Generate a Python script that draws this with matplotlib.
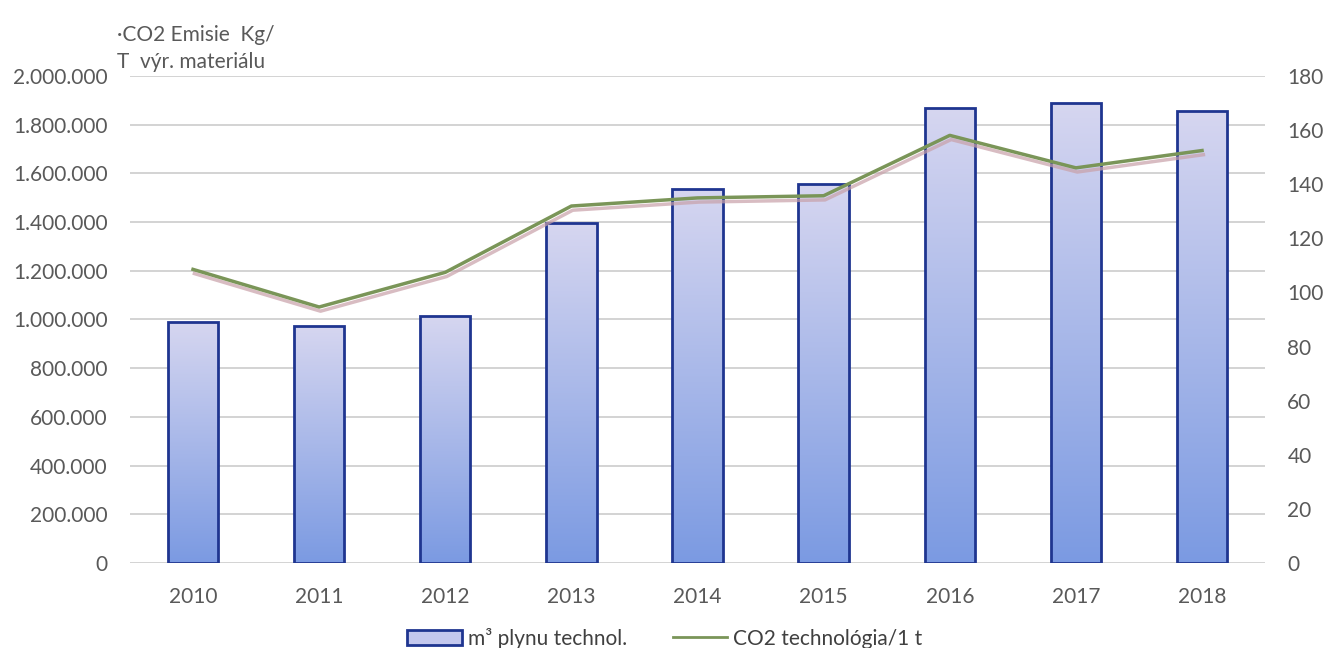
import numpy as np
import matplotlib.pyplot as plt
import matplotlib.patheffects as pe
from matplotlib.colors import LinearSegmentedColormap
from matplotlib.patches import Patch
from matplotlib.lines import Line2D
from matplotlib.ticker import FuncFormatter

plt.rcParams['font.family'] = ['Lato', 'DejaVu Sans']

# --- data ---
roky = ['2010', '2011', '2012', '2013', '2014', '2015', '2016', '2017', '2018']
plyn_m3 = [991000, 973000, 1014000, 1395000, 1536000, 1555000, 1867000, 1888000, 1856000]
co2_na_tonu = [108.5, 94.6, 107.4, 131.9, 134.9, 135.7, 158.0, 146.0, 152.4]

lbl_bary = 'm³ plynu technol.'
lbl_ciara = 'CO2 technológia/1 t'
nadpis = '·CO2 Emisie  Kg/\nT  výr. materiálu'

sive = '#595959'
okraj = '#1f3590'
zelena = '#7a9558'
grad = LinearSegmentedColormap.from_list('g', ['#7b9ae2', '#d6d6f0'])

fig = plt.figure(figsize=(13.3, 6.48), dpi=100)
ax = fig.add_axes([0.0977, 0.131, 0.8535, 0.752])
x = np.arange(len(roky))

# --- stlpce s gradientom ---
bary = ax.bar(x, plyn_m3, width=0.4, facecolor='none', edgecolor=okraj,
              linewidth=2, zorder=3)
g = np.linspace(0, 1, 256).reshape(-1, 1)
for b in bary:
    bx, by = b.get_x(), b.get_y()
    w, h = b.get_width(), b.get_height()
    im = ax.imshow(g, extent=[bx, bx + w, by, by + h], origin='lower',
                   aspect='auto', cmap=grad, zorder=2)
    im.set_clip_path(b)

ax.set_xlim(-0.5, len(roky) - 0.5)
ax.set_ylim(0, 2000000)
ax.set_yticks(np.arange(0, 2000001, 200000))
ax.yaxis.set_major_formatter(FuncFormatter(lambda v, p: f'{int(v):,}'.replace(',', '.')))
ax.set_xticks(x)
ax.set_xticklabels(roky)
ax.grid(axis='y', color='#cccccc', linewidth=1.2, zorder=0)
ax.set_axisbelow(True)
for s in ax.spines.values():
    s.set_visible(False)
ax.tick_params(length=0, labelsize=15, colors=sive)
ax.tick_params(axis='y', pad=16)
ax.tick_params(axis='x', pad=17)

# --- ciara na druhej osi ---
ax2 = ax.twinx()
ax2.plot(x, co2_na_tonu, color=zelena, linewidth=2.5, zorder=5,
         path_effects=[pe.SimpleLineShadow(offset=(1, -3), shadow_color='#c8a0a8', alpha=0.7),
                       pe.Normal()])
ax2.set_ylim(0, 180)
ax2.set_yticks(np.arange(0, 181, 20))
for s in ax2.spines.values():
    s.set_visible(False)
ax2.tick_params(length=0, labelsize=15, colors=sive, pad=16)

fig.text(0.088, 0.889, nadpis, fontsize=15, color=sive, ha='left', va='bottom',
         linespacing=1.45)

handles = [Patch(facecolor='#c4c8ee', edgecolor=okraj, linewidth=2),
           Line2D([], [], color=zelena, linewidth=2)]
fig.legend(handles, [lbl_bary, lbl_ciara], loc='lower center', ncol=2,
           bbox_to_anchor=(0.5, -0.03), frameon=False, fontsize=15,
           labelcolor='#404040', handlelength=2.6, handletextpad=0.3,
           columnspacing=2.2)

fig.savefig('out.png', dpi=100)
